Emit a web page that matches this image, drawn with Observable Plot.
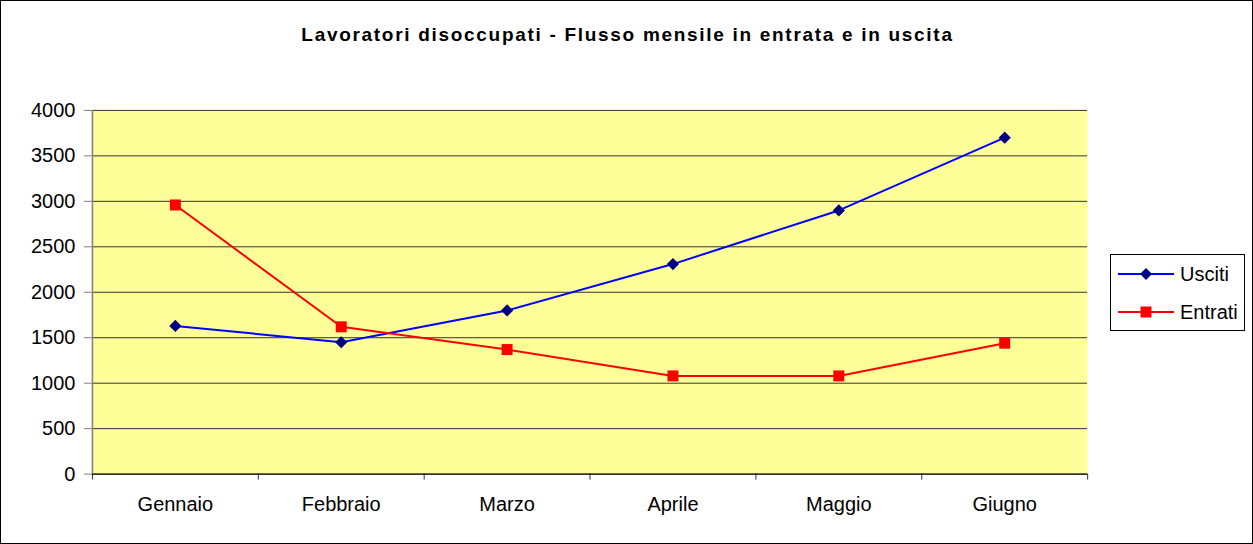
<!DOCTYPE html>
<html>
<head>
<meta charset="utf-8">
<script src="https://cdn.jsdelivr.net/npm/d3@7"></script>
<script src="https://cdn.jsdelivr.net/npm/@observablehq/plot@0.6"></script>
<style>
  html, body { margin: 0; padding: 0; background: #fff; }
  #wrap { position: relative; width: 1251px; height: 542px; border: 1px solid #000; overflow: hidden; font-family: "Liberation Sans", Arial, sans-serif; }
  #title { position: absolute; left: 0; width: 1253px; top: 23px; text-align: center; font-weight: bold; font-size: 19px; letter-spacing: 1.7px; color: #000; }
  #chart { position: absolute; left: -1px; top: -1px; }
  #legend { position: absolute; left: 1109px; top: 253px; width: 133px; height: 75px; border: 1px solid #000; background: #fff; font-size: 20px; }
  .item { position: absolute; left: 7px; display: flex; align-items: center; height: 24px; }
  .item span { margin-left: 6px; }
</style>
</head>
<body>
<div id="wrap">
  <div id="title">Lavoratori disoccupati - Flusso mensile in entrata e in uscita</div>
  <div id="chart"></div>
  <div id="legend">
    <div class="item" style="top:7px"><svg width="56" height="20"><line x1="0" y1="10" x2="56" y2="10" stroke="#0000ff" stroke-width="2"/><path d="M28 4 L34 10 L28 16 L22 10 Z" fill="#000080"/></svg><span>Usciti</span></div>
    <div class="item" style="top:45px"><svg width="56" height="20"><line x1="0" y1="10" x2="56" y2="10" stroke="#ff0000" stroke-width="2"/><rect x="22.5" y="4.5" width="11" height="11" fill="#ff0000"/></svg><span>Entrati</span></div>
  </div>
</div>
<script>
const months = ["Gennaio", "Febbraio", "Marzo", "Aprile", "Maggio", "Giugno"];
const usciti = [1630, 1450, 1800, 2310, 2900, 3700];
const entrati = [2960, 1620, 1370, 1080, 1080, 1440];
const yTicks = [0, 500, 1000, 1500, 2000, 2500, 3000, 3500, 4000];

const rows = (vals, name) => vals.map((v, i) => ({x: i + 0.5, y: v, serie: name, month: months[i]}));
const dU = rows(usciti, "Usciti");
const dE = rows(entrati, "Entrati");

const plot = Plot.plot({
  width: 1253,
  height: 544,
  marginLeft: 92,
  marginRight: 165,
  marginTop: 110,
  marginBottom: 70,
  style: {fontFamily: "'Liberation Sans', Arial, sans-serif", fontSize: "20px", color: "#000", background: "transparent"},
  x: {type: "linear", domain: [0, months.length]},
  y: {domain: [0, 4000]},
  marks: [
    Plot.frame({fill: "#ffff99"}),
    Plot.gridY(yTicks, {stroke: "#333", strokeOpacity: 1, strokeWidth: 1}),
    Plot.axisY(yTicks, {tickSize: 8, tickPadding: 9, label: null, tickFormat: d => String(d), stroke: "#808080", fontSize: 20}),
    Plot.axisX(d3.range(0, months.length + 1), {tickSize: 6, tickFormat: () => "", label: null, stroke: "#333"}),
    Plot.axisX(months.map((m, i) => i + 0.5), {tickSize: 0, tickPadding: 23, tickFormat: d => months[Math.floor(d)], label: null, fontSize: 20}),
    Plot.ruleX([0], {stroke: "#808080", strokeWidth: 1.5}),
    Plot.ruleY([0], {stroke: "#000", strokeWidth: 1}),
    Plot.line(dU, {x: "x", y: "y", stroke: "#0000ff", strokeWidth: 2}),
    Plot.line(dE, {x: "x", y: "y", stroke: "#ff0000", strokeWidth: 2}),
    Plot.dot(dU, {x: "x", y: "y", symbol: "diamond2", r: 5.5, fill: "#000080", stroke: "none"}),
    Plot.dot(dE, {x: "x", y: "y", symbol: "square", r: 6.2, fill: "#ff0000", stroke: "none"})
  ]
});
document.getElementById("chart").appendChild(plot);
</script>
</body>
</html>
